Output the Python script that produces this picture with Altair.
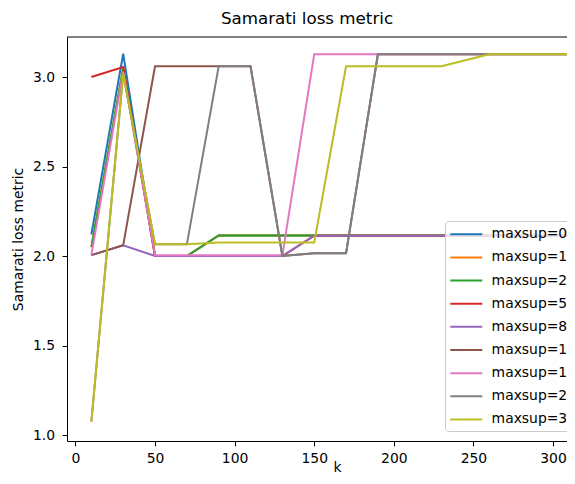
import altair as alt
import pandas as pd

# ---- data ----
k_values = [10, 30, 50, 70, 90, 110, 130, 150, 170, 190, 210, 230, 260, 290, 320]

series_names = ["maxsup=0", "maxsup=1", "maxsup=2", "maxsup=5", "maxsup=8",
                "maxsup=10", "maxsup=15", "maxsup=20", "maxsup=30"]

maxsup_0 = [2.12, 3.13, 2.0, 2.0, 2.115, 2.115, 2.115, 2.115, 2.115, 2.115, 2.115, 2.115, 2.115, 2.115, 2.115]
maxsup_1 = [2.05, 3.05, 2.0, 2.0, 2.115, 2.115, 2.115, 2.115, 2.115, 2.115, 2.115, 2.115, 2.115, 2.115, 2.115]
maxsup_2 = [2.05, 3.05, 2.0, 2.0, 2.115, 2.115, 2.115, 2.115, 2.115, 2.115, 2.115, 2.115, 2.115, 2.115, 2.115]
maxsup_5 = [3.0, 3.056, 2.0, 2.0, 2.0, 2.0, 2.0, 2.113, 2.113, 2.113, 2.113, 2.113, 2.113, 2.113, 2.113]
maxsup_8 = [2.005, 2.06, 2.0, 2.0, 2.0, 2.0, 2.0, 2.113, 2.113, 2.113, 2.113, 2.113, 2.113, 2.113, 2.113]
maxsup_10 = [2.005, 2.06, 3.06, 3.06, 3.06, 3.06, 2.0, 2.015, 2.015, 3.127, 3.127, 3.127, 3.127, 3.127, 3.127]
maxsup_15 = [2.005, 3.03, 2.004, 2.004, 2.004, 2.004, 2.004, 3.127, 3.127, 3.127, 3.127, 3.127, 3.127, 3.127, 3.127]
maxsup_20 = [1.074, 3.02, 2.065, 2.065, 3.06, 3.06, 2.0, 2.015, 2.015, 3.127, 3.127, 3.127, 3.127, 3.127, 3.127]
maxsup_30 = [1.074, 3.02, 2.065, 2.065, 2.075, 2.075, 2.075, 2.075, 3.06, 3.06, 3.06, 3.06, 3.127, 3.127, 3.127]

all_series = [maxsup_0, maxsup_1, maxsup_2, maxsup_5, maxsup_8,
              maxsup_10, maxsup_15, maxsup_20, maxsup_30]

colors = ["#1f77b4", "#ff7f0e", "#2ca02c", "#d62728", "#9467bd",
          "#8c564b", "#e377c2", "#7f7f7f", "#bcbd22"]

x_ticks = [0, 50, 100, 150, 200, 250, 300]
y_ticks = [1.0, 1.5, 2.0, 2.5, 3.0]

rows = []
for name, vals in zip(series_names, all_series):
    for kk, v in zip(k_values, vals):
        rows.append({"k": kk, "metric": v, "series": name})
df = pd.DataFrame(rows)

W, H = 500, 404
FONT = "DejaVu Sans"

lines = alt.Chart(df).mark_line(strokeWidth=2, clip=True).encode(
    x=alt.X("k:Q",
            scale=alt.Scale(domain=[-5.3, 308.8], nice=False, zero=False),
            axis=alt.Axis(values=x_ticks, title="k", titleX=270, titleY=30,
                          titleBaseline="alphabetic", titleAlign="center",
                          labelPadding=5.8)),
    y=alt.Y("metric:Q",
            scale=alt.Scale(domain=[0.9665, 3.2235], nice=False, zero=False),
            axis=alt.Axis(values=y_ticks, format=".1f", title="Samarati loss metric",
                          titleX=-44.5, titleY=H / 2, titleAngle=270,
                          titleBaseline="alphabetic", titleAlign="center",
                          labelPadding=7.5)),
    color=alt.Color("series:N",
                    scale=alt.Scale(domain=series_names, range=colors),
                    sort=series_names,
                    legend=alt.Legend(orient="none", legendX=378, legendY=184,
                                      title=None, symbolType="M-1,0L3,0", symbolSize=256,
                                      symbolStrokeWidth=2, labelFont=FONT,
                                      labelFontSize=13.9, labelColor="black",
                                      labelOffset=24.3, padding=4.3, rowPadding=7.14,
                                      strokeColor="#cccccc",
                                      fillColor="rgba(255,255,255,0.8)",
                                      cornerRadius=3, labelLimit=300)),
)

top_spine = alt.Chart(pd.DataFrame({"a": [0]})).mark_rule(color="black", strokeWidth=1).encode(
    x=alt.value(0), x2=alt.value(W), y=alt.value(0)
)

chart = alt.layer(lines, top_spine).properties(
    width=W, height=H,
    title=alt.TitleParams("Samarati loss metric", font=FONT, fontSize=16.7,
                          fontWeight="normal", color="black", anchor="middle",
                          baseline="alphabetic", offset=9.7, dx=-10, dy=14),
    autosize=alt.AutoSizeParams(type="none"),
    padding={"left": 59, "top": 29, "right": 0, "bottom": 33},
).configure_view(stroke=None).configure_axis(
    grid=False, domainColor="black", domainWidth=1, tickColor="black",
    tickSize=4.9, tickWidth=1, labelFont=FONT, labelFontSize=13.9,
    labelColor="black", titleFont=FONT, titleFontSize=13.9, titleColor="black",
    titleFontWeight="normal"
)

chart.save("out.html", embed_options={"renderer": "svg", "actions": False})
